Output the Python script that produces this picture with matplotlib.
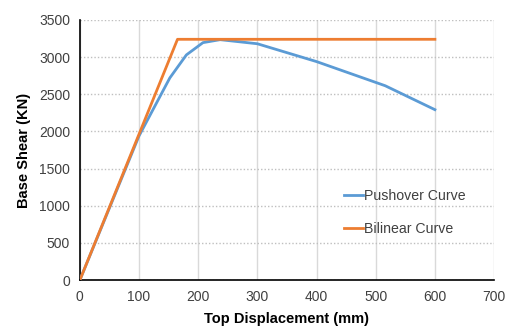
import matplotlib
matplotlib.use("Agg")
import matplotlib.pyplot as plt

plt.rcParams['font.family'] = ['Liberation Sans', 'DejaVu Sans']

push_x = [0, 50, 100, 152, 180, 208, 237, 300, 400, 516, 600]
push_y = [0, 970, 1940, 2720, 3030, 3195, 3235, 3180, 2940, 2615, 2293]
bil_x = [0, 165, 600]
bil_y = [0, 3240, 3240]
xticks = [0, 100, 200, 300, 400, 500, 600, 700]
yticks = [0, 500, 1000, 1500, 2000, 2500, 3000, 3500]

fig = plt.figure(figsize=(5.12, 3.33), dpi=100)
ax = fig.add_axes([0.156, 0.159, 0.809, 0.781])

ax.plot(push_x, push_y, color='#5B9BD5', lw=2, label='Pushover Curve', zorder=3)
ax.plot(bil_x, bil_y, color='#ED7D31', lw=2, label='Bilinear Curve', zorder=4)

ax.set_xlim(0, 700)
ax.set_ylim(0, 3500)
ax.set_xticks(xticks)
ax.set_yticks(yticks)
ax.tick_params(length=0, labelsize=10, colors='#404040', pad=7)
ax.xaxis.grid(True, color='#d9d9d9', lw=1, ls='-')
ax.yaxis.grid(True, color='#bfbfbf', lw=1, ls=(0, (1, 1.5)))
ax.set_axisbelow(True)
for s in ['top', 'right']:
    ax.spines[s].set_visible(False)
for s in ['left', 'bottom']:
    ax.spines[s].set_color('black')
    ax.spines[s].set_linewidth(1.2)

ax.set_xlabel('Top Displacement (mm)', fontsize=10.5, fontweight='bold', labelpad=6)
ax.set_ylabel('Base Shear (KN)', fontsize=10.5, fontweight='bold', labelpad=6)

leg = ax.legend(loc='center left', bbox_to_anchor=(0.607, 0.26), frameon=False,
                fontsize=10.2, handlelength=1.35, handletextpad=0.05, labelspacing=1.4)
for t in leg.get_texts():
    t.set_color('#404040')

fig.savefig('out.png', dpi=100)
